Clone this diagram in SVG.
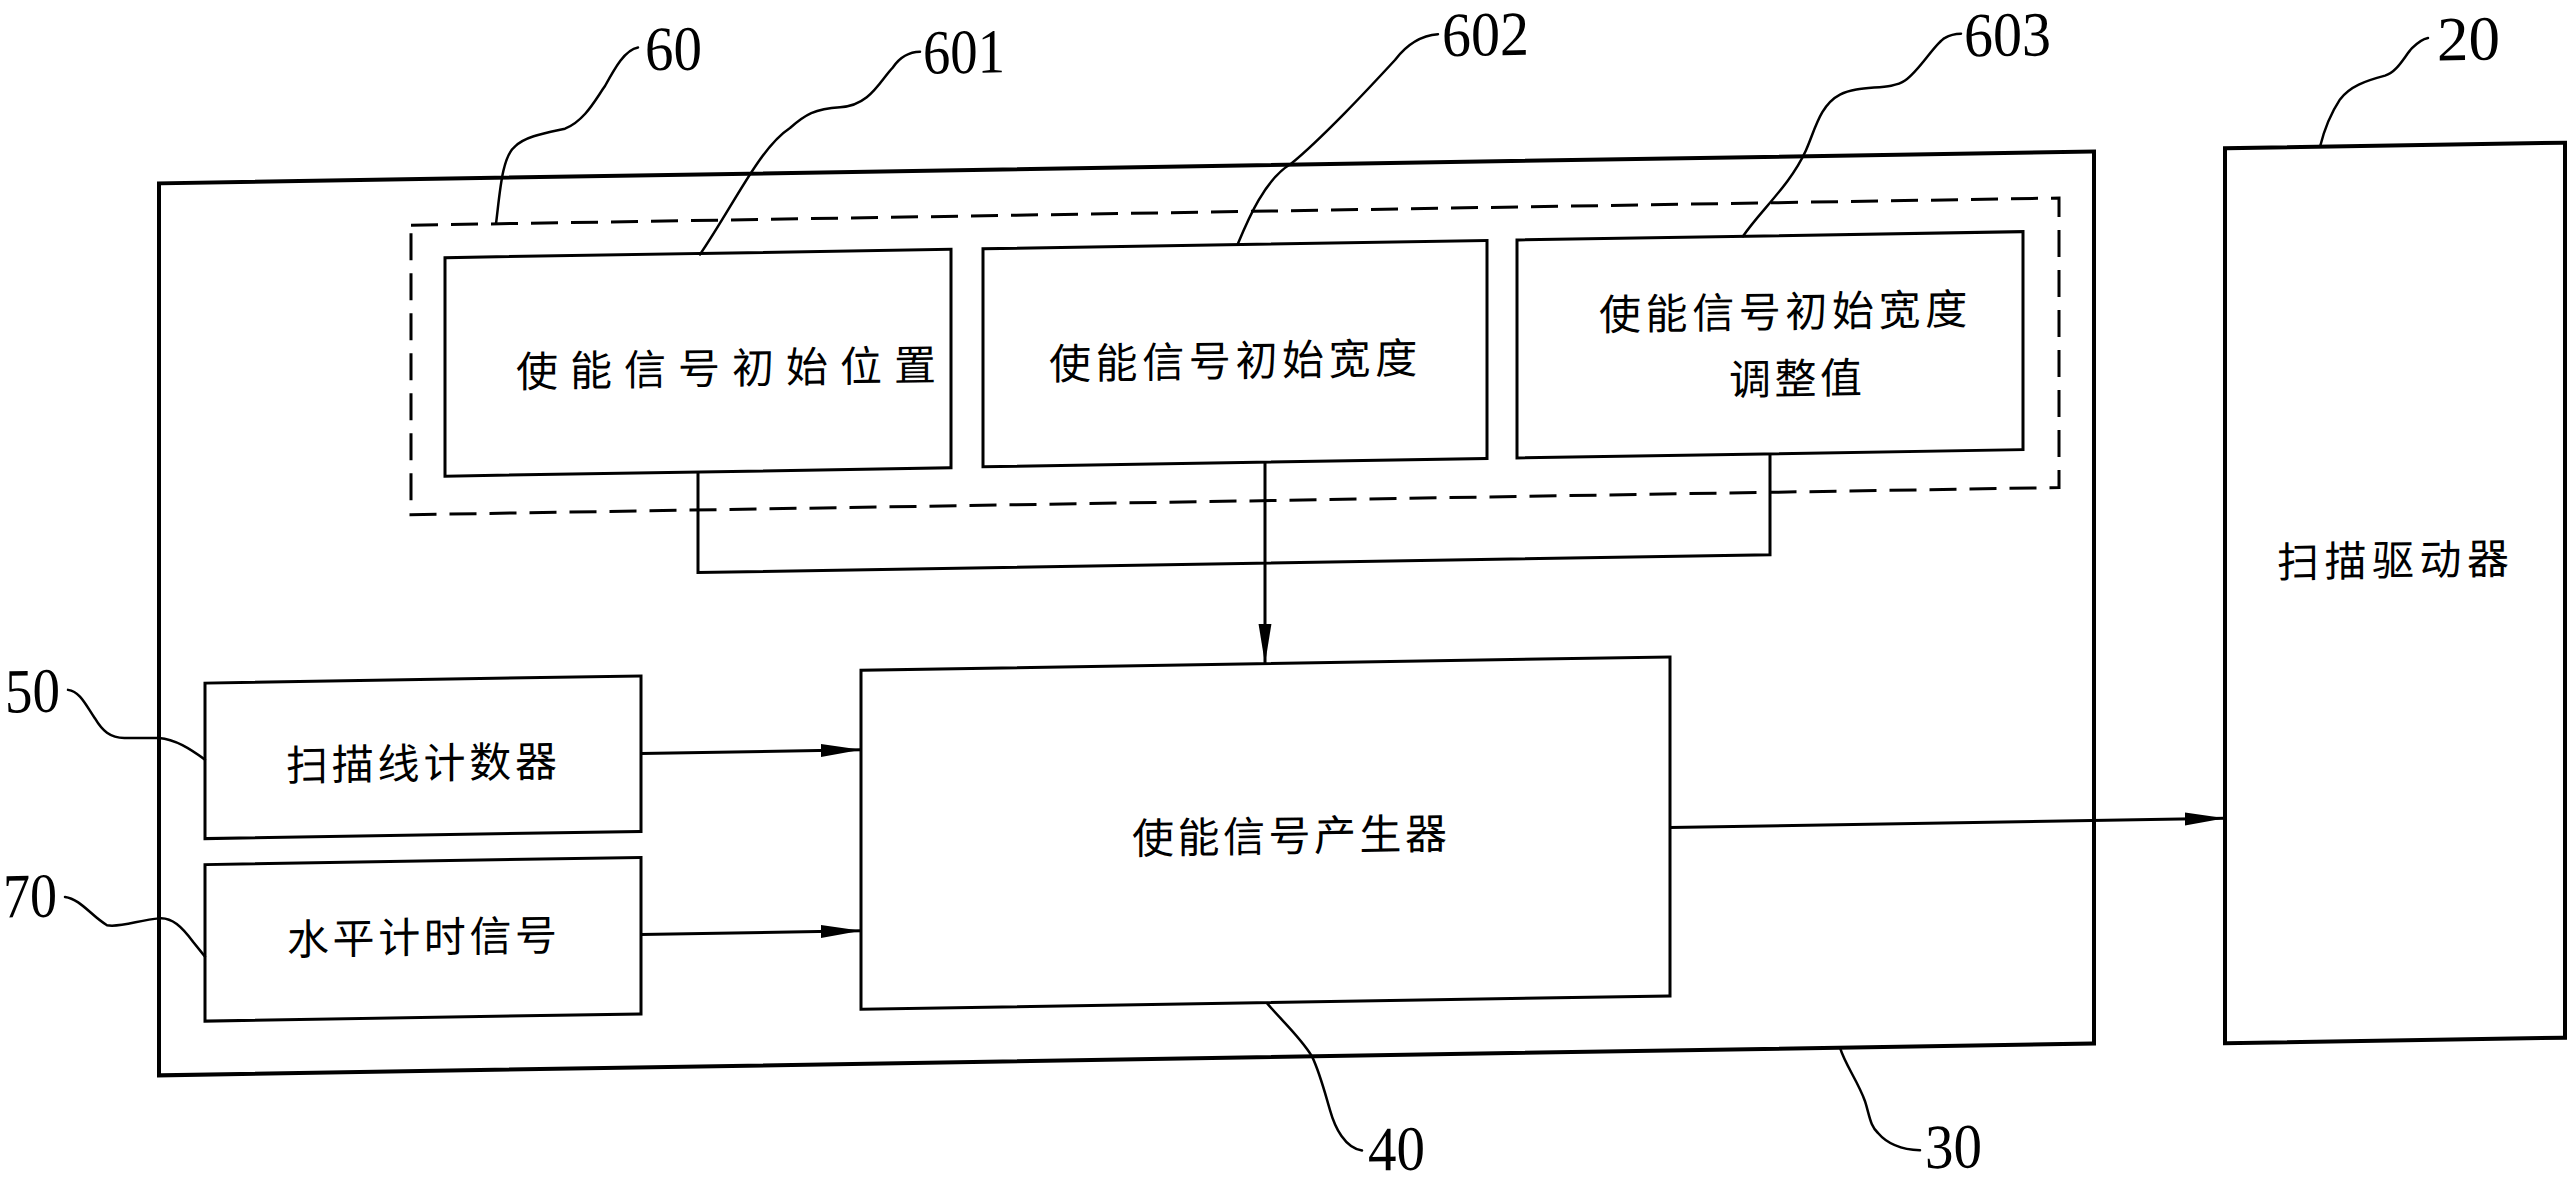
<svg xmlns="http://www.w3.org/2000/svg" width="2572" height="1183" viewBox="0 0 2572 1183">
<style>
.box{fill:none;stroke:#000;stroke-width:3}
.thick{fill:none;stroke:#000;stroke-width:4}
.dash{fill:none;stroke:#000;stroke-width:3;stroke-dasharray:27 13}
.wire{fill:none;stroke:#000;stroke-width:3}
.lead{fill:none;stroke:#000;stroke-width:2.5;stroke-linecap:round}
.cn{font-family:"Noto Sans CJK SC","Noto Sans CJK JP",sans-serif;font-size:42px;fill:#000}
.num{font-family:"Liberation Serif","Times New Roman",serif;font-size:63px;fill:#000}
</style>
<defs>
<marker id="arr" markerUnits="userSpaceOnUse" markerWidth="42" markerHeight="16" refX="40" refY="7" orient="auto">
<path d="M0,0.5 L40,7 L0,13.5 Z" fill="#000"/>
</marker>
</defs>
<rect width="2572" height="1183" fill="#fff"/>
<g transform="matrix(1 -0.0165 0 1 0 0)">
<g id="n30">
<rect class="thick" x="159" y="186" width="1935" height="892"/>
<path class="lead" d="M1840,1078 C1845,1095 1858,1112 1865,1132 C1870,1148 1870,1156 1878,1164 C1888,1176 1903,1181 1920,1182"/>
<text class="num" x="1925" y="1200" font-size="58" textLength="57" lengthAdjust="spacingAndGlyphs">30</text>
</g>
<g id="n60">
<rect class="dash" x="411" y="232" width="1648" height="289.5"/>
<path class="lead" d="M496,232 C500,200 502,165 515,155 C525,145 545,142 565,138 C585,130 595,110 605,96 C615,78 625,60 638,58"/>
<text class="num" x="645" y="81" textLength="57" lengthAdjust="spacingAndGlyphs">60</text>
</g>
<g id="n601">
<rect class="box" x="445" y="265" width="506" height="218.5"/>
<text class="cn" x="516" y="395.5" letter-spacing="12">使能信号初始位置</text>
<path class="lead" d="M700,266 C735,215 760,160 790,141 C805,128 815,122 840,121 C870,120 880,95 893,82 C900,72 910,67 920,67"/>
<text class="num" x="923" y="89" textLength="82" lengthAdjust="spacingAndGlyphs">601</text>
</g>
<g id="n602">
<rect class="box" x="983" y="265" width="504" height="218"/>
<text class="cn" x="1049" y="396.5" letter-spacing="4.6">使能信号初始宽度</text>
<path class="lead" d="M1238,264 C1248,240 1265,200 1291,185 C1310,170 1330,150 1345,135 C1365,115 1380,99 1395,83 C1405,70 1420,59 1438,58"/>
<text class="num" x="1442" y="80" font-size="57" textLength="87" lengthAdjust="spacingAndGlyphs">602</text>
</g>
<g id="n603">
<rect class="box" x="1517" y="265" width="506" height="218"/>
<text class="cn" x="1599" y="356.5" letter-spacing="4.6">使能信号初始宽度</text>
<text class="cn" x="1729" y="423.5" letter-spacing="3.5">调整值</text>
<path class="lead" d="M1743,265 C1760,240 1790,215 1806,180 C1815,160 1820,135 1840,125 C1860,115 1890,122 1905,112 C1920,102 1935,75 1945,70 C1950,67 1955,66 1961,66"/>
<text class="num" x="1964" y="89" textLength="87" lengthAdjust="spacingAndGlyphs">603</text>
</g>
<g id="n50">
<rect class="box" x="205" y="686.5" width="436" height="155.5"/>
<text class="cn" x="286" y="785.5" letter-spacing="3.8">扫描线计数器</text>
<path class="lead" d="M68,691 C80,693 85,705 95,720 C102,732 110,740 125,740 L159,740.6 C175,742 190,752 205,763"/>
<text class="num" x="5" y="712.5" textLength="55" lengthAdjust="spacingAndGlyphs">50</text>
</g>
<g id="n70">
<rect class="box" x="205" y="868" width="436" height="156.5"/>
<text class="cn" x="287" y="959.5" letter-spacing="3.6">水平计时信号</text>
<path class="lead" d="M65,898 C80,900 92,918 107,927 C120,930 140,922 159,921 C172,920 182,930 193,945 L205,960"/>
<text class="num" x="3" y="917.5" textLength="54" lengthAdjust="spacingAndGlyphs">70</text>
</g>
<g id="n40">
<rect class="box" x="861" y="684.5" width="809" height="339"/>
<text class="cn" x="1132" y="872.5" letter-spacing="3.5">使能信号产生器</text>
<path class="lead" d="M1267,1024 C1280,1040 1300,1058 1312,1078 C1320,1095 1325,1115 1330,1132 C1335,1150 1345,1170 1362,1173"/>
<text class="num" x="1368" y="1193" font-size="58" textLength="57" lengthAdjust="spacingAndGlyphs">40</text>
</g>
<g id="n20">
<rect class="thick" x="2225" y="185" width="340" height="895"/>
<text class="cn" x="2277" y="615" letter-spacing="5.5">扫描驱动器</text>
<path class="lead" d="M2320,185 C2325,165 2332,150 2340,138 C2350,125 2365,120 2385,115 C2398,111 2405,95 2412,88 C2418,82 2422,79 2428,78"/>
<text class="num" x="2437" y="100.7" textLength="63" lengthAdjust="spacingAndGlyphs">20</text>
</g>
<g id="connectors">
<path class="wire" d="M698,483.5 V584 H1770 V483"/>
<path class="wire" d="M1265,482.5 V684.5" marker-end="url(#arr)"/>
<path class="wire" d="M641,764 H861" marker-end="url(#arr)"/>
<path class="wire" d="M641,945 H861" marker-end="url(#arr)"/>
<path class="wire" d="M1670,855 H2225" marker-end="url(#arr)"/>
</g>
</g>
</svg>
